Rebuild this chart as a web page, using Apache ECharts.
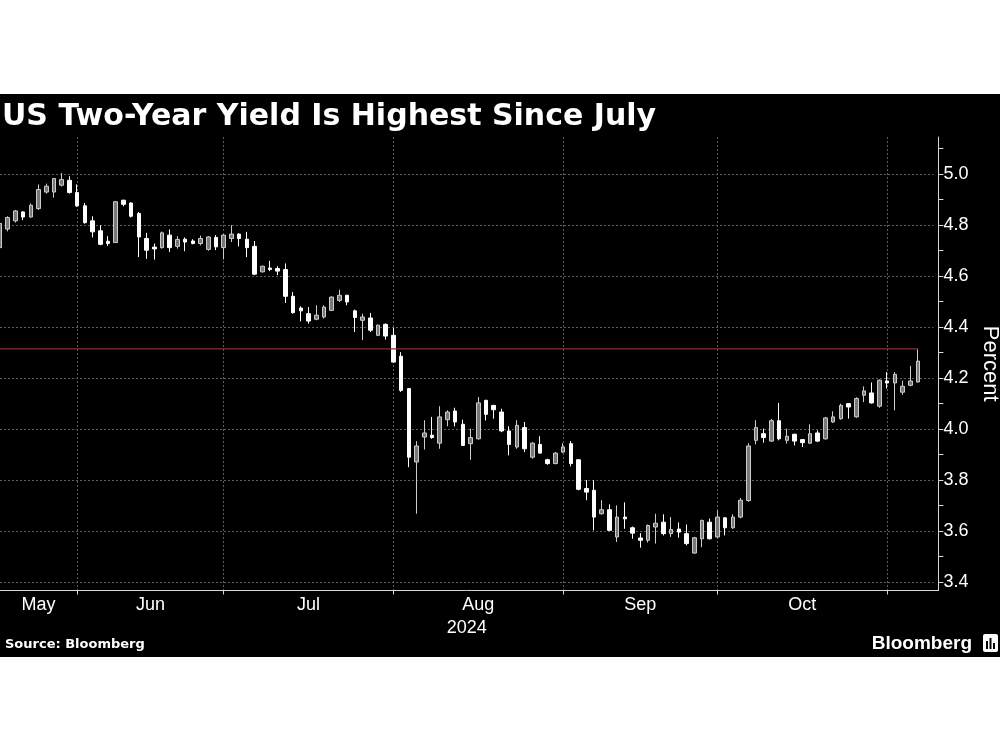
<!DOCTYPE html>
<html>
<head>
<meta charset="utf-8">
<script src="https://cdn.jsdelivr.net/npm/echarts@6/dist/echarts.min.js"></script>
<style>
html,body{margin:0;padding:0;background:#fff;}
#band{position:absolute;left:0;top:94px;width:1000px;height:563px;background:#000;}
#chart{position:absolute;left:0;top:0;width:1000px;height:750px;}
</style>
</head>
<body>
<div id="band"></div>
<div id="chart"></div>
<script>
// ---- categories (trading days) ----
const dates = [
 '2024-05-16','2024-05-17','2024-05-20','2024-05-21','2024-05-22','2024-05-23','2024-05-24','2024-05-28','2024-05-29','2024-05-30','2024-05-31',
 '2024-06-03','2024-06-04','2024-06-05','2024-06-06','2024-06-07','2024-06-10','2024-06-11','2024-06-12','2024-06-13','2024-06-14',
 '2024-06-17','2024-06-18','2024-06-20','2024-06-21','2024-06-24','2024-06-25','2024-06-26','2024-06-27','2024-06-28',
 '2024-07-01','2024-07-02','2024-07-03','2024-07-05','2024-07-08','2024-07-09','2024-07-10','2024-07-11','2024-07-12',
 '2024-07-15','2024-07-16','2024-07-17','2024-07-18','2024-07-19','2024-07-22','2024-07-23','2024-07-24','2024-07-25','2024-07-26',
 '2024-07-29','2024-07-30','2024-07-31',
 '2024-08-01','2024-08-02','2024-08-05','2024-08-06','2024-08-07','2024-08-08','2024-08-09','2024-08-12','2024-08-13','2024-08-14',
 '2024-08-15','2024-08-16','2024-08-19','2024-08-20','2024-08-21','2024-08-22','2024-08-23','2024-08-26','2024-08-27','2024-08-28',
 '2024-08-29','2024-08-30',
 '2024-09-03','2024-09-04','2024-09-05','2024-09-06','2024-09-09','2024-09-10','2024-09-11','2024-09-12','2024-09-13',
 '2024-09-16','2024-09-17','2024-09-18','2024-09-19','2024-09-20','2024-09-23','2024-09-24','2024-09-25','2024-09-26','2024-09-27',
 '2024-09-30',
 '2024-10-01','2024-10-02','2024-10-03','2024-10-04','2024-10-07','2024-10-08','2024-10-09','2024-10-10','2024-10-11',
 '2024-10-15','2024-10-16','2024-10-17','2024-10-18','2024-10-21','2024-10-22','2024-10-23','2024-10-24','2024-10-25',
 '2024-10-28','2024-10-29','2024-10-30','2024-10-31',
 '2024-11-01','2024-11-04','2024-11-05','2024-11-06',
 '2024-11-07','2024-11-08'
];

// ---- series values (percent) ----
const opens = [
 4.712,4.785,4.817,4.852,4.832,4.865,4.93,4.93,4.957,4.976,
 4.928,4.876,4.817,4.778,4.737,4.732,4.898,4.887,4.846,4.748,
 4.714,4.712,4.761,4.717,4.745,4.738,4.728,4.705,4.752,4.712,
 4.748,4.765,4.745,4.717,4.617,4.632,4.63,4.626,4.521,4.475,
 4.453,4.431,4.44,4.466,4.505,4.525,4.464,4.427,4.436,4.368,
 4.411,4.368,4.286,4.159,3.871,3.969,3.976,3.945,4.037,4.071,
 4.019,3.943,3.962,4.113,4.093,4.067,3.993,3.93,4.006,3.89,
 3.94,3.88,3.865,3.91,3.943,3.88,3.767,3.76,3.668,3.684,
 3.577,3.655,3.613,3.573,3.564,3.616,3.635,3.59,3.608,3.59,
 3.514,3.57,3.635,3.577,3.652,3.613,3.655,3.72,3.956,3.982,
 3.953,4.033,3.956,3.98,3.959,3.945,3.985,3.962,4.028,4.041,
 4.10,4.048,4.133,4.142,4.09,4.189,4.181,4.145,4.172,4.185
];
const closes = [
 4.807,4.83,4.856,4.832,4.878,4.94,4.953,4.983,4.979,4.928,
 4.876,4.81,4.774,4.725,4.728,4.892,4.882,4.835,4.754,4.702,
 4.707,4.77,4.712,4.744,4.734,4.728,4.748,4.754,4.715,4.761,
 4.765,4.748,4.712,4.608,4.639,4.626,4.62,4.521,4.457,4.464,
 4.424,4.447,4.479,4.518,4.525,4.499,4.438,4.44,4.388,4.408,
 4.365,4.263,4.152,3.89,3.934,3.985,3.967,4.048,4.067,4.028,
 3.936,3.967,4.103,4.058,4.076,3.993,3.94,4.015,3.923,3.945,
 3.906,3.865,3.906,3.93,3.865,3.764,3.753,3.655,3.684,3.603,
 3.655,3.648,3.592,3.564,3.622,3.631,3.59,3.606,3.596,3.551,
 3.574,3.642,3.57,3.655,3.613,3.655,3.721,3.934,4.006,3.967,
 4.033,3.962,3.972,3.953,3.947,3.982,3.953,4.044,4.048,4.093,
 4.087,4.12,4.15,4.103,4.192,4.181,4.215,4.168,4.189,4.267
];
const lows = [
 4.70,4.776,4.81,4.82,4.83,4.86,4.924,4.908,4.952,4.924,
 4.872,4.806,4.752,4.721,4.719,4.73,4.874,4.83,4.675,4.668,
 4.665,4.708,4.695,4.708,4.698,4.725,4.721,4.70,4.702,4.666,
 4.734,4.717,4.675,4.604,4.615,4.62,4.604,4.495,4.453,4.423,
 4.414,4.427,4.434,4.463,4.499,4.486,4.381,4.349,4.381,4.365,
 4.351,4.26,4.146,3.851,3.668,3.92,3.962,3.923,4.011,4.011,
 3.934,3.88,3.959,4.034,4.041,3.988,3.897,3.923,3.91,3.884,
 3.904,3.86,3.862,3.906,3.854,3.76,3.721,3.603,3.665,3.60,
 3.557,3.609,3.57,3.535,3.555,3.551,3.583,3.577,3.574,3.544,
 3.511,3.537,3.567,3.574,3.583,3.609,3.65,3.715,3.94,3.947,
 3.95,3.956,3.943,3.936,3.93,3.943,3.949,3.959,4.024,4.037,
 4.041,4.045,4.106,4.10,4.084,4.159,4.074,4.135,4.168,4.183
];
const highs = [
 4.81,4.835,4.86,4.855,4.885,4.96,4.963,4.985,5.005,4.992,
 4.96,4.887,4.835,4.80,4.757,4.895,4.90,4.89,4.852,4.77,
 4.728,4.775,4.783,4.757,4.752,4.745,4.759,4.757,4.761,4.765,
 4.80,4.768,4.774,4.738,4.641,4.66,4.639,4.65,4.538,4.482,
 4.479,4.486,4.486,4.521,4.547,4.527,4.469,4.453,4.456,4.41,
 4.415,4.398,4.302,4.16,3.953,4.035,4.048,4.09,4.074,4.084,
 4.037,4.002,4.126,4.115,4.095,4.08,4.011,4.035,4.028,3.949,
 3.972,3.884,3.91,3.945,3.953,3.882,3.80,3.80,3.721,3.705,
 3.701,3.713,3.618,3.592,3.626,3.668,3.666,3.655,3.634,3.626,
 3.577,3.645,3.649,3.681,3.655,3.666,3.73,3.945,4.035,4.002,
 4.04,4.103,4.002,3.982,3.96,4.019,3.995,4.048,4.07,4.10,
 4.102,4.125,4.168,4.183,4.195,4.224,4.224,4.19,4.248,4.315
];
const redLevel = 4.315;

// ---- tick labels ----
const yTickValues = [3.4,3.5,3.6,3.7,3.8,3.9,4.0,4.1,4.2,4.3,4.4,4.5,4.6,4.7,4.8,4.9,5.0,5.1];
const yLabelValues = [3.4,3.6,3.8,4.0,4.2,4.4,4.6,4.8,5.0];
const monthNames = ['Jan','Feb','Mar','Apr','May','Jun','Jul','Aug','Sep','Oct','Nov','Dec'];
const yearLabel = '2024';

// ---- derived ----
const candleData = dates.map((d, i) => i < opens.length ? [opens[i], closes[i], lows[i], highs[i]] : '-');
const monthEnds = [];
for (let i = 0; i < dates.length - 1; i++) {
  if (dates[i].slice(0, 7) !== dates[i + 1].slice(0, 7)) monthEnds.push(i);
}
const monthEndSet = new Set(monthEnds);
const isMonthEnd = (idx) => monthEndSet.has(idx);
const monthLabels = monthEnds.map((e, k) => {
  const s = k === 0 ? 0 : monthEnds[k - 1];
  return { pos: (s + e) / 2, text: monthNames[parseInt(dates[e].slice(5, 7), 10) - 1] };
});

const FONT = 'Liberation Sans';
const GRID_COL = '#5e5e5e';
const AXIS_COL = '#d8d8d8';

const chart = echarts.init(document.getElementById('chart'), null, { renderer: 'canvas' });
chart.setOption({
  animation: false,
  backgroundColor: 'transparent',
  title: {
    text: 'US Two-Year Yield Is Highest Since July',
    left: -3, top: 97,
    textStyle: { color: '#fff', fontSize: 30, fontWeight: 'bold', fontFamily: 'DejaVu Sans' }
  },
  grid: { left: 0, top: 137, width: 933.4, height: 453.5, outerBoundsMode: 'none' },
  xAxis: [
    {
      type: 'category', data: dates, boundaryGap: false, gridIndex: 0, position: 'bottom',
      axisLine: { show: true, onZero: false, lineStyle: { color: AXIS_COL, width: 1 } },
      axisTick: { show: true, interval: isMonthEnd, length: 4, lineStyle: { color: AXIS_COL } },
      axisLabel: { show: false },
      splitLine: { show: true, interval: isMonthEnd, lineStyle: { color: GRID_COL, type: [2, 2], width: 1 } }
    },
    {
      type: 'value', min: 0, max: dates.length - 1, gridIndex: 0, position: 'bottom',
      axisLine: { show: false, onZero: false }, axisTick: { show: false }, splitLine: { show: false },
      axisLabel: {
        show: true,
        customValues: monthLabels.map(m => m.pos),
        formatter: (v) => { const m = monthLabels.find(x => Math.abs(x.pos - v) < 1e-6); return m ? m.text : ''; },
        color: '#fff', fontSize: 18, fontFamily: FONT, margin: 6
      },
      name: yearLabel, nameLocation: 'middle', nameGap: 26,
      nameTextStyle: { color: '#fff', fontSize: 18, fontFamily: FONT }
    }
  ],
  yAxis: {
    type: 'value', position: 'right', offset: 5, min: 3.367, max: 5.146,
    axisLine: { show: true, onZero: false, lineStyle: { color: AXIS_COL, width: 1 } },
    axisTick: { show: true, customValues: yTickValues, length: 5, lineStyle: { color: AXIS_COL } },
    axisLabel: {
      customValues: yLabelValues, formatter: (v) => v.toFixed(1),
      color: '#fff', fontSize: 18, fontFamily: FONT, margin: 5
    },
    splitLine: { show: false },
    name: 'Percent', nameLocation: 'middle', nameRotate: -90, nameGap: 38,
    nameTextStyle: { color: '#fff', fontSize: 22, fontFamily: FONT }
  },
  series: [
    {
      type: 'candlestick', xAxisIndex: 0, yAxisIndex: 0, data: candleData, barWidth: 4, z: 2,
      itemStyle: { color: '#787878', color0: '#ffffff', borderColor: '#cccccc', borderColor0: '#ffffff', borderWidth: 1 },
      markLine: {
        silent: true, z: 1, symbol: ['none', 'none'], label: { show: false }, animation: false,
        lineStyle: { color: GRID_COL, type: [2, 2], width: 1 },
        emphasis: { disabled: true },
        data: yLabelValues.map(v => ({ yAxis: v }))
      }
    },
    {
      type: 'line', xAxisIndex: 0, yAxisIndex: 0, z: 5, symbol: 'none', silent: true,
      lineStyle: { color: '#962828', width: 1.3 },
      data: [[dates[0], redLevel], [dates[opens.length - 1], redLevel]]
    }
  ],
  graphic: [
    { type: 'line', shape: { x1: 933, y1: 590.5, x2: 939, y2: 590.5 }, style: { stroke: AXIS_COL, lineWidth: 1 } },
    { type: 'text', left: 5, top: 638, style: { text: 'Source: Bloomberg', fill: '#fff', font: 'bold 13px "DejaVu Sans"' } },
    { type: 'text', right: 28, top: 634, style: { text: 'Bloomberg', fill: '#fff', font: 'bold 19px "Liberation Sans"' } },
    { type: 'rect', left: 983, top: 634, shape: { width: 15, height: 18, r: 2 }, style: { fill: '#fff' } },
    { type: 'rect', left: 986, top: 641, shape: { width: 2, height: 8 }, style: { fill: '#000' } },
    { type: 'rect', left: 989.5, top: 638, shape: { width: 2, height: 11 }, style: { fill: '#000' } },
    { type: 'rect', left: 993, top: 643, shape: { width: 2, height: 6 }, style: { fill: '#000' } }
  ]
});
</script>
</body>
</html>
